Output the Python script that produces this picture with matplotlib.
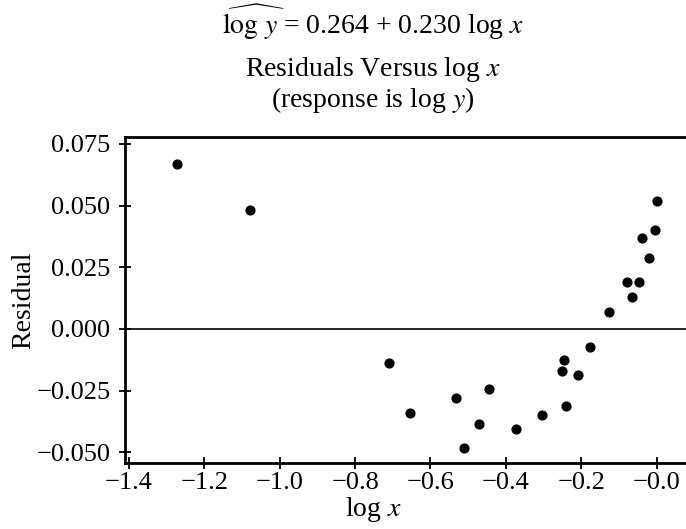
import numpy as np
import matplotlib
matplotlib.use('Agg')
import matplotlib.pyplot as plt

# residuos
log_x = [-1.272, -1.079, -0.711, -0.655, -0.533, -0.512, -0.472, -0.444,
         -0.374, -0.303, -0.252, -0.247, -0.240, -0.208, -0.177, -0.125,
         -0.079, -0.065, -0.046, -0.040, -0.020, -0.003, 0.001]
residual = [0.0670, 0.0481, -0.0139, -0.0340, -0.0282, -0.0484, -0.0386, -0.0244,
            -0.0405, -0.0347, -0.0170, -0.0126, -0.0312, -0.0187, -0.0074, 0.0068,
            0.0191, 0.0130, 0.0191, 0.0368, 0.0287, 0.0401, 0.0519]

x_ticks = [-1.4, -1.2, -1.0, -0.8, -0.6, -0.4, -0.2, 0.0]
x_tick_labels = ['\u22121.4', '\u22121.2', '\u22121.0', '\u22120.8', '\u22120.6', '\u22120.4', '\u22120.2', '\u22120.0']
y_ticks = [-0.050, -0.025, 0.000, 0.025, 0.050, 0.075]
y_tick_labels = ['\u22120.050', '\u22120.025', '0.000', '0.025', '0.050', '0.075']

plt.rcParams['font.family'] = ['Liberation Serif', 'DejaVu Serif']
plt.rcParams['mathtext.fontset'] = 'stix'

fig = plt.figure(figsize=(6.86, 5.29), dpi=100)
ax = fig.add_axes([0.182, 0.125, 0.818, 0.616])

ax.scatter(log_x, residual, s=40, color='black', zorder=3)
ax.axhline(0, color='black', linewidth=1.2)

ax.set_xlim(-1.411, 0.078)
ax.set_ylim(-0.0543, 0.0778)
ax.set_xticks(x_ticks)
ax.set_xticklabels(x_tick_labels)
ax.set_yticks(y_ticks)
ax.set_yticklabels(y_tick_labels)
ax.tick_params(direction='inout', length=9, width=1.3, labelsize=19)
ax.tick_params(axis='y', pad=6)
ax.tick_params(axis='x', pad=2)

for side in ['left', 'bottom', 'top']:
    ax.spines[side].set_linewidth(2)
ax.spines['right'].set_visible(False)

# etiquetas de ejes
fig.text(24 / 686, 1 - 300 / 529, 'Residual', fontsize=20, rotation=90, ha='center', va='center')
fig.text(373 / 686, 1 - 510 / 529, r'log $x$', fontsize=20, ha='center', va='center')

# ecuacion ajustada y titulo
fig.text(373 / 686, 1 - 22 / 529, r'$\widehat{\mathrm{log}\ y}$ = 0.264 + 0.230 log $x$',
         fontsize=20, ha='center', va='center')
fig.text(373 / 686, 1 - 70 / 529, r'Residuals Versus log $x$', fontsize=20, ha='center', va='center')
fig.text(373 / 686, 1 - 100 / 529, r'(response is log $y$)', fontsize=20, ha='center', va='center')

plt.savefig('out.png', dpi=100)
